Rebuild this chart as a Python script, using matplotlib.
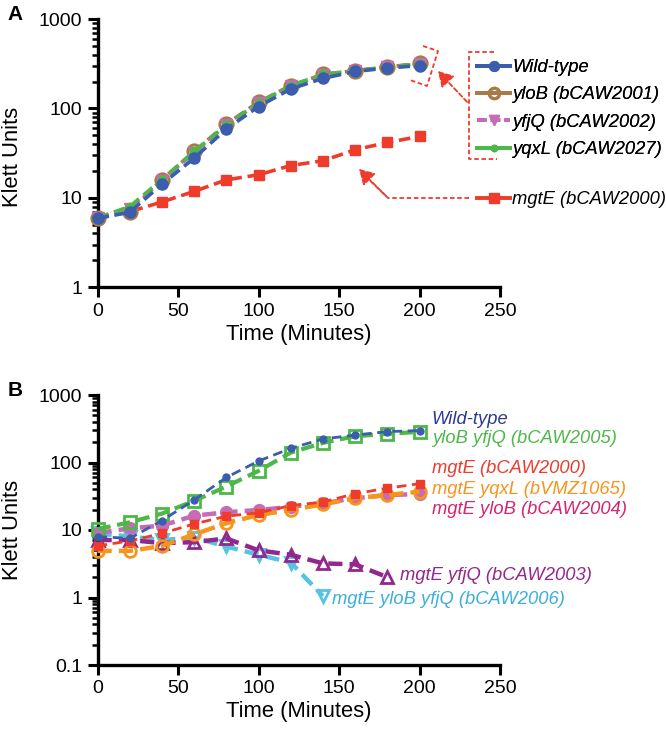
import matplotlib
matplotlib.use("Agg")
import matplotlib.pyplot as plt
from matplotlib.lines import Line2D
import numpy as np

plt.rcParams['font.family'] = ['Liberation Sans', 'DejaVu Sans']

# ---------------- data ----------------
time = [0, 20, 40, 60, 80, 100, 120, 140, 160, 180, 200]

# Panel A
a_wt = [5.9, 6.9, 14.2, 27.8, 58.8, 105, 165, 217, 259, 283, 301]
a_yloB = [6.0, 7.0, 16.0, 33.0, 67.0, 118, 180, 240, 265, 290, 320]
a_yfjQ = [6.0, 7.5, 15.5, 32.0, 65.0, 115, 178, 238, 263, 288, 315]
a_yqxL = [6.0, 8.0, 16.0, 33.0, 65.0, 115, 180, 240, 265, 290, 315]
a_mgtE = [6.0, 7.0, 9.0, 11.8, 15.9, 18.1, 23.0, 26.0, 34.5, 41.6, 48.6]

# Panel B
b_wt = [8.0, 7.5, 13.8, 27.8, 60.0, 105, 162, 223, 255, 287, 297]
b_yloB_yfjQ = [10.3, 13.0, 17.5, 27.0, 44.0, 75, 140, 195, 245, 265, 285]
b_mgtE = [5.8, 6.9, 8.9, 12.3, 16.0, 18.0, 23.0, 26.0, 34.5, 41.6, 48.6]
b_mgtE_yqxL = [4.9, 4.9, 5.8, 8.6, 12.6, 16.7, 19.8, 24.0, 29.5, 33.0, 37.0]
b_mgtE_yloB = [9.0, 10.6, 11.6, 16.3, 18.3, 19.8, 22.0, 24.9, 29.5, 33.0, 34.0]
time_yfjQ = [0, 20, 40, 60, 80, 100, 120, 140, 160, 180]
b_mgtE_yfjQ = [7.1, 7.1, 6.4, 6.6, 7.5, 5.0, 4.3, 3.2, 3.1, 2.0]
time_3 = [0, 20, 40, 60, 80, 100, 120, 140]
b_mgtE_yloB_yfjQ = [8.9, 8.0, 7.1, 7.7, 5.7, 4.3, 3.3, 1.05]

xticks = [0, 50, 100, 150, 200, 250]
a_yticks = [1, 10, 100, 1000]
b_yticks = [0.1, 1, 10, 100, 1000]

labels_a = ['Wild-type', 'yloB (bCAW2001)', 'yfjQ (bCAW2002)', 'yqxL (bCAW2027)', 'mgtE (bCAW2000)']
labels_b = ['Wild-type', 'yloB yfjQ (bCAW2005)', 'mgtE (bCAW2000)', 'mgtE yqxL (bVMZ1065)',
            'mgtE yloB (bCAW2004)', 'mgtE yfjQ (bCAW2003)', 'mgtE yloB yfjQ (bCAW2006)']

# ---------------- colours ----------------
c_blue = '#3A5DAE'
c_blue_txt = '#2E3A92'
c_brown = '#A97A45'
c_mag = '#C46CB4'
c_green = '#4DB848'
c_red = '#EE3B2C'
c_orange = '#F7941D'
c_pink_txt = '#D6246E'
c_purple = '#92278F'
c_cyan = '#55C3E3'
c_cyan_txt = '#3BAFDA'

W, H = 666, 731
fig = plt.figure(figsize=(W / 100, H / 100), dpi=100)

def px(x, y):
    return (x / W, 1 - y / H)

axA = fig.add_axes([97.5 / W, 1 - 287.3 / H, 402.5 / W, (287.3 - 19) / H])
axB = fig.add_axes([97.5 / W, 1 - 665 / H, 402.5 / W, (665 - 395) / H])

dash = (3.2, 1.6)

def style(ax, yticks, ylim, ylab_y):
    ax.set_yscale('log')
    ax.set_xlim(0, 250)
    ax.set_ylim(*ylim)
    ax.set_xticks(xticks)
    ax.set_yticks(yticks)
    ax.set_yticklabels([('%g' % v) for v in yticks])
    ax.yaxis.set_minor_locator(matplotlib.ticker.LogLocator(base=10, subs=np.arange(2, 10)))
    ax.yaxis.set_minor_formatter(matplotlib.ticker.NullFormatter())
    for s in ['top', 'right']:
        ax.spines[s].set_visible(False)
    for s in ['left', 'bottom']:
        ax.spines[s].set_linewidth(2.4)
    ax.tick_params(which='major', length=7, width=2.2, labelsize=14, pad=4)
    ax.tick_params(which='minor', length=4.5, width=1.8)
    ax.set_xlabel('Time (Minutes)', fontsize=15.8, labelpad=3)
    fig.text(*px(13, ylab_y), 'Klett Units', fontsize=15.8, rotation=90,
             ha='center', va='center')

# ---------------- Panel A ----------------
lw = 2.6
axA.plot(time, a_yloB, color=c_brown, lw=lw, ls=(0, dash), marker='o', ms=9.5,
         mfc='none', mec=c_brown, mew=2.2, clip_on=False, zorder=3)
axA.plot(time, a_yfjQ, color=c_mag, lw=lw, ls=(0, dash), marker='v', ms=8,
         mfc=c_mag, mec=c_mag, clip_on=False, zorder=3)
axA.plot(time, a_yqxL, color=c_green, lw=lw, ls=(0, dash), marker='o', ms=6,
         mfc=c_green, mec=c_green, clip_on=False, zorder=4)
axA.plot(time, a_wt, color=c_blue, lw=lw, ls=(0, dash), marker='o', ms=8,
         mfc=c_blue, mec=c_blue, clip_on=False, zorder=5)
axA.plot(time, a_mgtE, color=c_red, lw=lw, ls=(0, dash), marker='s', ms=7,
         mfc=c_red, mec=c_red, clip_on=False, zorder=2)
style(axA, a_yticks, (1, 1000), 157)

leg_handles = [
    Line2D([], [], color=c_blue, lw=2.8, marker='o', ms=7, mfc=c_blue, mec=c_blue),
    Line2D([], [], color=c_brown, lw=2.8, marker='o', ms=7.5, mfc='none', mec=c_brown, mew=2.2),
    Line2D([], [], color=c_mag, lw=2.8, ls=(0, (2.5, 1)), marker='v', ms=6.5, mfc=c_mag, mec=c_mag),
    Line2D([], [], color=c_green, lw=2.8, marker='o', ms=4.5, mfc=c_green, mec=c_green),
]
lprop = {'style': 'italic', 'size': 13.2}
leg1 = fig.legend(leg_handles, labels_a[:4], loc='upper left', bbox_to_anchor=px(477, 59),
                  frameon=False, handlelength=1.8, handletextpad=0.12, labelspacing=0.57,
                  borderpad=0, borderaxespad=0, prop=lprop)
leg2 = fig.legend([Line2D([], [], color=c_red, lw=2.8, marker='s', ms=7, mfc=c_red, mec=c_red)],
                  labels_a[4:], loc='upper left', bbox_to_anchor=px(477, 191),
                  frameon=False, handlelength=1.8, handletextpad=0.12,
                  borderpad=0, borderaxespad=0, prop=lprop)
fig.add_artist(leg1)

# annotation brackets / arrows (figure pixel coordinates)
def fline(pts, **kw):
    xs = [p[0] / W for p in pts]
    ys = [1 - p[1] / H for p in pts]
    fig.add_artist(Line2D(xs, ys, transform=fig.transFigure, **kw))

dkw = dict(color=c_red, lw=1.3, ls=(0, (2.5, 1.5)))
fline([(494, 52), (469, 52), (469, 159), (497, 159)], **dkw)
fline([(423, 46), (438, 51), (427, 86), (410, 80)], **dkw)
fline([(469, 198), (388, 198), (362, 173)], **dkw)
for p0, p1 in [((469, 104), (436, 69)), ((388, 198), (357, 167))]:
    fig.add_artist(matplotlib.patches.FancyArrowPatch(px(*p0), px(*p1), transform=fig.transFigure,
                                                      arrowstyle='-|>,head_length=6,head_width=3.5',
                                                      color=c_red, lw=1.3, ls=(0, (2.5, 1.5)),
                                                      mutation_scale=1.5))

# ---------------- Panel B ----------------
axB.plot(time_3, b_mgtE_yloB_yfjQ, color=c_cyan, lw=3.2, ls=(0, dash), marker='v', ms=9,
         mfc='none', mec=c_cyan, mew=2.0, clip_on=False, zorder=2)
axB.plot(time_yfjQ, b_mgtE_yfjQ, color=c_purple, lw=3.2, ls=(0, dash), marker='^', ms=9,
         mfc='none', mec=c_purple, mew=2.0, clip_on=False, zorder=2)
axB.plot(time, b_mgtE_yloB, color=c_mag, lw=3.2, ls=(0, dash), marker='o', ms=8.5,
         mfc=c_mag, mec=c_mag, clip_on=False, zorder=3)
axB.plot(time, b_mgtE_yqxL, color=c_orange, lw=3.2, ls=(0, dash), marker='o', ms=8.5,
         mfc='none', mec=c_orange, mew=2.0, clip_on=False, zorder=3)
axB.plot(time, b_mgtE, color=c_red, lw=2.0, ls=(0, (3.5, 2)), marker='s', ms=5.5,
         mfc=c_red, mec=c_red, clip_on=False, zorder=4)
axB.plot(time, b_yloB_yfjQ, color=c_green, lw=3.0, ls=(0, dash), marker='s', ms=8.5,
         mfc='none', mec=c_green, mew=2.0, clip_on=False, zorder=3)
axB.plot(time, b_wt, color=c_blue, lw=2.0, ls=(0, (3.5, 2)), marker='o', ms=5,
         mfc=c_blue, mec=c_blue, clip_on=False, zorder=5)
style(axB, b_yticks, (0.1, 1000), 530)

tkw = dict(style='italic', fontsize=13.2, va='center', ha='left')
axB.text(207.6, 437, labels_b[0], color=c_blue_txt, **tkw)
axB.text(207.6, 228, labels_b[1], color=c_green, **tkw)
axB.text(207.6, 82, labels_b[2], color=c_red, **tkw)
axB.text(207.6, 40, labels_b[3], color=c_orange, **tkw)
axB.text(207.6, 20.3, labels_b[4], color=c_pink_txt, **tkw)
axB.text(187.9, 2.13, labels_b[5], color=c_purple, **tkw)
axB.text(145.5, 0.94, labels_b[6], color=c_cyan_txt, **tkw)

fig.text(*px(15, 15), 'A', fontsize=15, fontweight='bold', va='center', ha='center')
fig.text(*px(15, 390), 'B', fontsize=15, fontweight='bold', va='center', ha='center')

fig.savefig('out.png', dpi=100)
